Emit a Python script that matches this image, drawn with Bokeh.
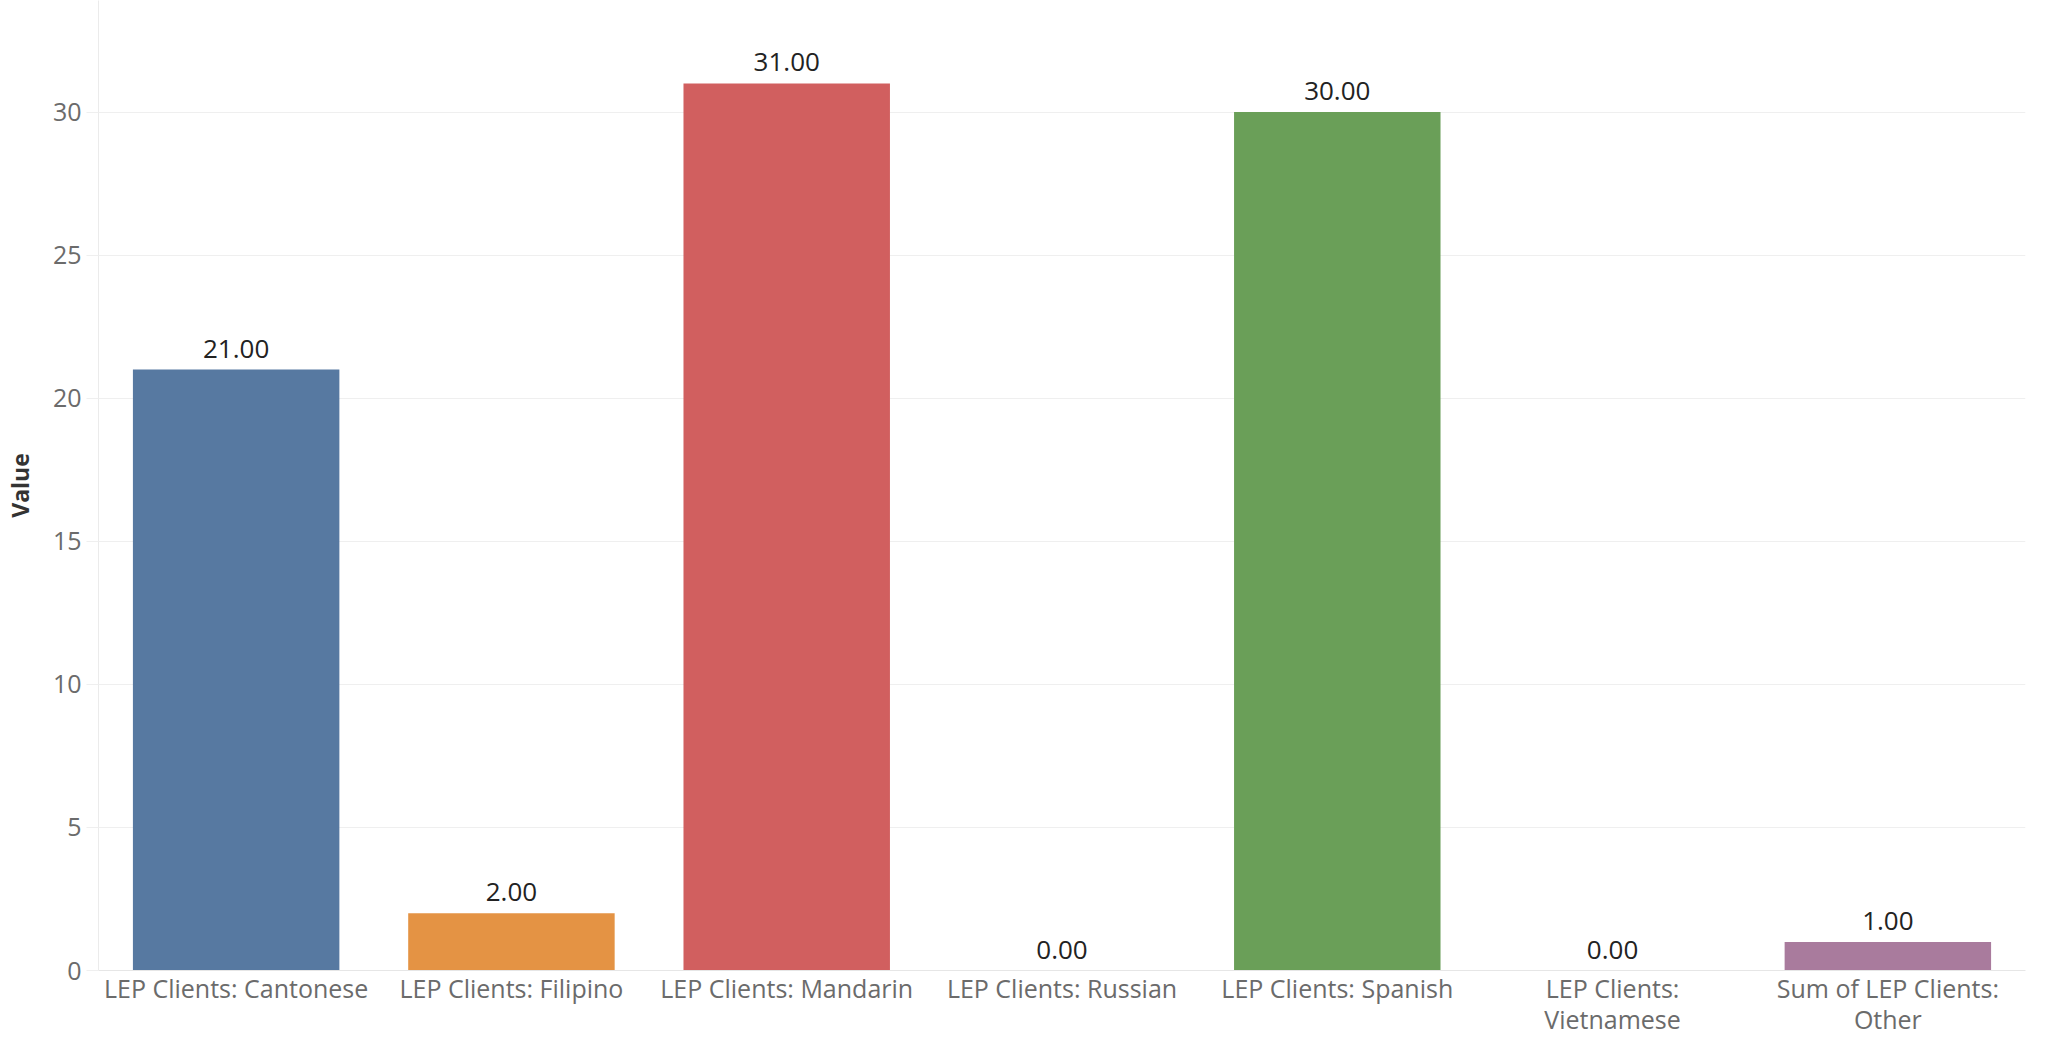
from bokeh.plotting import figure
from bokeh.models import ColumnDataSource, LabelSet, Range1d, FactorRange, FixedTicker
from bokeh.core.properties import value
from bokeh.embed import file_html
from bokeh.resources import INLINE

categories = [
    "LEP Clients: Cantonese",
    "LEP Clients: Filipino",
    "LEP Clients: Mandarin",
    "LEP Clients: Russian",
    "LEP Clients: Spanish",
    "LEP Clients:\nVietnamese",
    "Sum of LEP Clients:\nOther",
]
values = [21, 2, 31, 0, 30, 0, 1]
labels = ["21.00", "2.00", "31.00", "0.00", "30.00", "0.00", "1.00"]
colors = ["#5779a1", "#e49344", "#d15f5f", "#7a7a7a", "#6a9f58", "#7a7a7a", "#a97b9d"]
y_ticks = [0, 5, 10, 15, 20, 25, 30]

FONT = "Open Sans"

source = ColumnDataSource(dict(cat=categories, val=values, lab=labels, col=colors))

p = figure(
    x_range=FactorRange(factors=categories, range_padding=0),
    y_range=Range1d(0, 33.9),
    width=2033, height=1038,
    min_border_left=89, min_border_right=8, min_border_top=0, min_border_bottom=0,
    output_backend="svg", toolbar_location=None,
)
p.outline_line_color = None
p.background_fill_color = "white"

p.vbar(x="cat", top="val", width=0.75, color="col", source=source, line_color=None)

lbl = LabelSet(x="cat", y="val", text="lab", source=source, text_align="center",
               text_baseline="alphabetic", y_offset=12, text_font=value(FONT),
               text_font_size="26px", text_color="#222222")
p.add_layout(lbl)

# grid
p.xgrid.grid_line_color = None
p.ygrid.grid_line_color = "#efefef"
p.ygrid.grid_line_width = 1

# y axis
p.yaxis.ticker = FixedTicker(ticks=y_ticks)
p.yaxis.axis_label = "Value"
p.yaxis.axis_label_text_font = FONT
p.yaxis.axis_label_text_font_style = "bold"
p.yaxis.axis_label_text_font_size = "23px"
p.yaxis.axis_label_text_color = "#333333"
p.yaxis.axis_label_standoff = 14
p.yaxis.major_label_text_font = FONT
p.yaxis.major_label_text_font_size = "25px"
p.yaxis.major_label_text_color = "#6b6b6b"
p.yaxis.major_label_standoff = 5
p.yaxis.axis_line_color = "#ebebeb"
p.yaxis.major_tick_line_color = "#efefef"
p.yaxis.major_tick_out = 12
p.yaxis.major_tick_in = 0
p.yaxis.minor_tick_line_color = None

# x axis
p.xaxis.major_label_text_font = FONT
p.xaxis.major_label_text_font_size = "25px"
p.xaxis.major_label_text_color = "#6b6b6b"
p.xaxis.major_label_text_line_height = 0.92
p.xaxis.major_label_standoff = 0
p.xaxis.axis_line_color = "#e6e6e6"
p.xaxis.major_tick_line_color = None
p.xaxis.major_tick_out = 0
p.xaxis.major_tick_in = 0

open("out.html", "w").write(file_html(p, INLINE))
